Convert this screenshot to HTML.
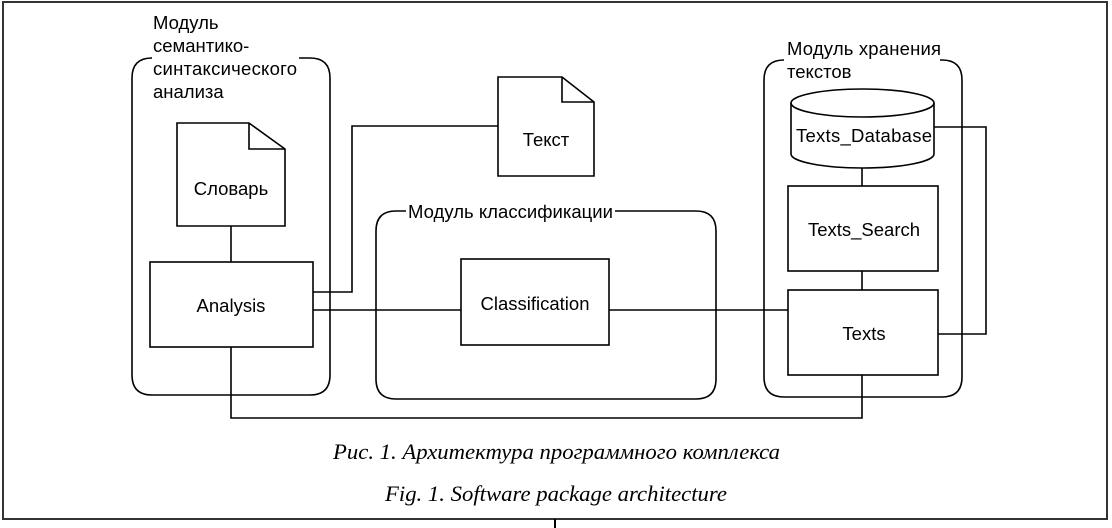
<!DOCTYPE html>
<html><head><meta charset="utf-8"><style>
html,body{margin:0;padding:0;background:#fff;}
svg{display:block;}
text{font-family:"Liberation Sans","DejaVu Sans",sans-serif;font-size:18.5px;fill:#000;}
.cap{font-family:"Liberation Serif",serif;font-style:italic;font-size:22px;}
</style></head><body>
<svg width="1112" height="528" viewBox="0 0 1112 528" xmlns="http://www.w3.org/2000/svg">
<g fill="none" stroke="#000" stroke-width="1.6">
<rect x="3" y="2" width="1104" height="517" stroke="#333" stroke-width="2"/>
<line x1="555" y1="519" x2="555" y2="528" stroke-width="2"/>
<path d="M150,58 H152 M299,58 H310 Q330,58 330,78 V375 Q330,395 310,395 H152 Q132,395 132,375 V78 Q132,58 152,58"/>
<path d="M406,211 H396 Q376,211 376,231 V379 Q376,399 396,399 H696 Q716,399 716,379 V231 Q716,211 696,211 H615"/>
<path d="M784,60 Q764,60 764,80 V377 Q764,397 784,397 H942 Q962,397 962,377 V80 Q962,60 942,60 H940"/>
<path d="M177,123 H249 L285,149 V226 H177 Z M249,123 V149 H285"/>
<path d="M498,77 H562 L594,102 V176 H498 Z M562,77 V102 H594"/>
<rect x="150" y="262" width="163" height="85" fill="#fff"/>
<rect x="461" y="259" width="148" height="86"/>
<rect x="788" y="186" width="150" height="85"/>
<rect x="788" y="290" width="150" height="85"/>
<path d="M791,103 V154 A71.5,14 0 0 0 934,154 V103"/>
<ellipse cx="862.5" cy="103" rx="71.5" ry="14"/>
<line x1="231" y1="226" x2="231" y2="262"/>
<path d="M313,292 H352 V126 H498"/>
<line x1="313" y1="310" x2="461" y2="310"/>
<line x1="609" y1="310" x2="788" y2="310"/>
<line x1="862" y1="168" x2="862" y2="186"/>
<line x1="862" y1="271" x2="862" y2="290"/>
<path d="M934,127 H986 V334 H938"/>
<path d="M862,375 V418 H231 V347"/>
</g>
<text x="153" y="29">Модуль</text>
<text x="153" y="52">семантико-</text>
<text x="153" y="75" textLength="144">синтаксического</text>
<text x="153" y="98">анализа</text>
<text x="231" y="195" text-anchor="middle">Словарь</text>
<text x="546" y="146" text-anchor="middle">Текст</text>
<text x="408" y="218" textLength="205">Модуль классификации</text>
<text x="231" y="312" text-anchor="middle">Analysis</text>
<text x="535" y="310" text-anchor="middle">Classification</text>
<text x="787" y="55" textLength="154">Модуль хранения</text>
<text x="787" y="78">текстов</text>
<text x="796" y="142" textLength="136">Texts_Database</text>
<text x="864" y="236" text-anchor="middle">Texts_Search</text>
<text x="864" y="340" text-anchor="middle">Texts</text>
<text class="cap" x="333" y="459" textLength="447" lengthAdjust="spacingAndGlyphs">Рис. 1. Архитектура программного комплекса</text>
<text class="cap" x="385" y="501" textLength="342" lengthAdjust="spacingAndGlyphs">Fig. 1. Software package architecture</text>
</svg>
</body></html>
